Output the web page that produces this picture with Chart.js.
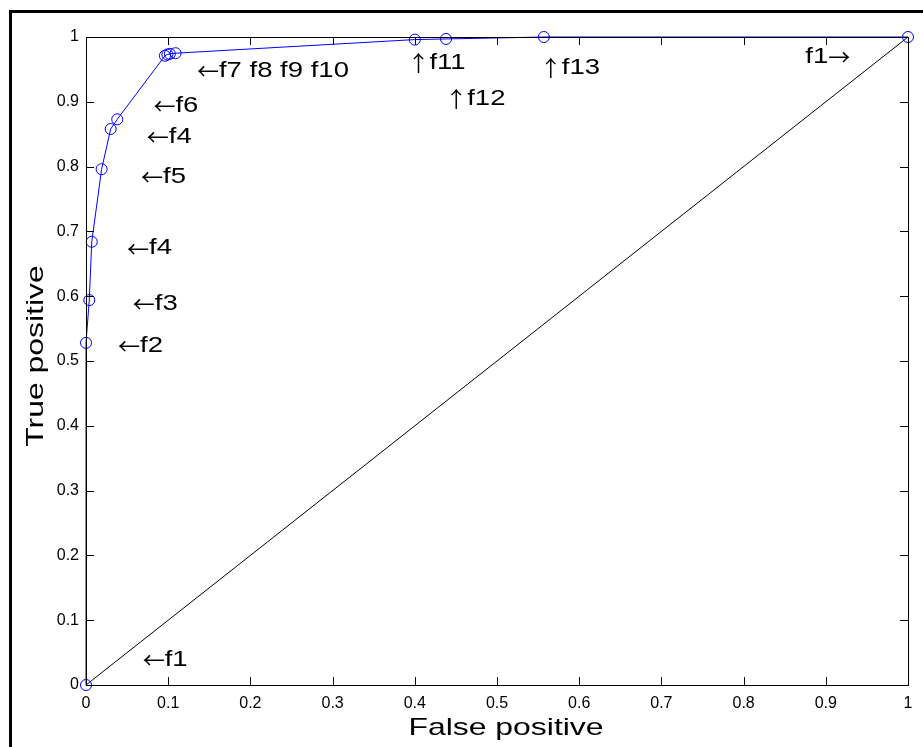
<!DOCTYPE html>
<html>
<head>
<meta charset="utf-8">
<script src="https://cdn.jsdelivr.net/npm/chart.js@4"></script>
<style>
  body { margin: 0; background: #fff; }
</style>
</head>
<body>
<canvas id="roc" width="923" height="747"></canvas>
<script>
// ROC curve points
const falsePos = [0, 0, 0.004, 0.007, 0.019, 0.030, 0.038, 0.096, 0.099, 0.102, 0.109, 0.400, 0.438, 0.557, 1]
const truePos = [0, 0.528, 0.594, 0.684, 0.796, 0.858, 0.873, 0.971, 0.973, 0.974, 0.975, 0.996, 0.997, 1.0, 1]

// chance line
const diagX = [0, 1]
const diagY = [0, 1]

// text notes on the plot
const noteText = ['←f7 f8 f9 f10', '←f6', '←f4', '←f5', '←f4', '←f3', '←f2', '←f1', '↑f11', '↑f12', '↑f13', 'f1→']
const noteX = [0.135, 0.082, 0.074, 0.067, 0.050, 0.057, 0.039, 0.069, 0.391, 0.437, 0.552, 0.875]
const noteY = [0.948, 0.894, 0.846, 0.784, 0.674, 0.588, 0.524, 0.039, 0.960, 0.905, 0.953, 0.969]

const xTitle = 'False positive'
const yTitle = 'True positive'

const fontName = '"Liberation Sans", Arial, Helvetica, sans-serif'
const arrowFont = '"Noto Sans CJK JP", "DejaVu Sans", sans-serif'
const stretch = 1.25  // text in the picture is wider than Arial

function toPoints(xs, ys) {
    return xs.map((x, i) => ({ x: x, y: ys[i] }))
}

// draw a note; arrows come from a font with long thin arrows
function drawNote(ctx, txt, x, y) {
    let cx = x
    txt.split(/([←↑→])/).forEach(part => {
        if (!part) return
        ctx.save()
        if (/[←↑→]/.test(part)) {
            ctx.font = '22px ' + arrowFont
            ctx.fillText(part, cx, y)
            cx += ctx.measureText(part).width
        } else {
            ctx.font = '22px ' + fontName
            ctx.translate(cx, y)
            ctx.scale(stretch, 1)
            ctx.fillText(part, 0, 0)
            cx += ctx.measureText(part).width * stretch
        }
        ctx.restore()
    })
}

const framePlugin = {
    id: 'frame',
    beforeDraw(chart) {
        const ctx = chart.ctx
        ctx.save()
        ctx.fillStyle = '#fff'
        ctx.fillRect(0, 0, chart.width, chart.height)
        ctx.strokeStyle = '#000'
        ctx.lineWidth = 3
        ctx.strokeRect(10.5, 11.5, 1000, 1000)
        ctx.restore()
    },
    afterDraw(chart) {
        const ctx = chart.ctx
        const a = chart.chartArea
        const xs = chart.scales.x
        const ys = chart.scales.y
        ctx.save()
        ctx.strokeStyle = '#000'
        ctx.lineWidth = 1
        ctx.beginPath()
        xs.ticks.forEach(t => {
            const px = Math.round(xs.getPixelForValue(t.value)) + 0.5
            ctx.moveTo(px, a.bottom); ctx.lineTo(px, a.bottom - 8)
            ctx.moveTo(px, a.top); ctx.lineTo(px, a.top + 8)
        })
        ys.ticks.forEach(t => {
            const py = Math.round(ys.getPixelForValue(t.value)) + 0.5
            ctx.moveTo(a.left, py); ctx.lineTo(a.left + 8, py)
            ctx.moveTo(a.right, py); ctx.lineTo(a.right - 8, py)
        })
        ctx.stroke()
        ctx.strokeRect(Math.round(a.left) + 0.5, Math.round(a.top) + 0.5,
            Math.round(a.right - a.left), Math.round(a.bottom - a.top))

        ctx.fillStyle = '#000'
        ctx.textAlign = 'left'
        ctx.textBaseline = 'middle'
        noteText.forEach((txt, i) => {
            drawNote(ctx, txt, xs.getPixelForValue(noteX[i]), ys.getPixelForValue(noteY[i]))
        })

        // axis titles
        ctx.font = '24px ' + fontName
        ctx.textAlign = 'center'
        ctx.textBaseline = 'alphabetic'
        ctx.save()
        ctx.translate((a.left + a.right) / 2 + 9, 735)
        ctx.scale(1.33, 1)
        ctx.fillText(xTitle, 0, 0)
        ctx.restore()
        ctx.save()
        ctx.translate(43, 356)
        ctx.rotate(-Math.PI / 2)
        ctx.scale(1.33, 1)
        ctx.fillText(yTitle, 0, 0)
        ctx.restore()
        ctx.restore()
    }
}

const ctx = document.getElementById('roc').getContext('2d')
new Chart(ctx, {
    type: 'scatter',
    data: {
        datasets: [{
            label: 'ROC',
            data: toPoints(falsePos, truePos),
            showLine: true,
            clip: false,
            borderColor: 'rgb(0, 0, 255)',
            borderWidth: 1,
            pointRadius: 5.5,
            pointBorderColor: 'rgb(0, 0, 255)',
            pointBackgroundColor: 'rgba(0, 0, 0, 0)',
            pointBorderWidth: 1,
            tension: 0
        }, {
            label: 'chance',
            data: toPoints(diagX, diagY),
            showLine: true,
            clip: false,
            borderColor: '#000',
            borderWidth: 1,
            pointRadius: 0
        }]
    },
    options: {
        responsive: false,
        animation: false,
        layout: { padding: { left: 0, top: 37, right: 15, bottom: 0 } },
        plugins: {
            legend: { display: false },
            tooltip: { enabled: false }
        },
        scales: {
            x: {
                type: 'linear',
                min: 0,
                max: 1,
                ticks: {
                    stepSize: 0.1,
                    color: '#000',
                    padding: 9,
                    maxRotation: 0,
                    font: { family: fontName, size: 16 },
                    callback: v => String(+v.toFixed(2))
                },
                grid: { display: false, drawTicks: false },
                border: { display: false },
                afterFit(scale) { scale.height = 62 }
            },
            y: {
                type: 'linear',
                min: 0,
                max: 1,
                ticks: {
                    stepSize: 0.1,
                    color: '#000',
                    padding: 7,
                    font: { family: fontName, size: 16 },
                    callback: v => String(+v.toFixed(2))
                },
                grid: { display: false, drawTicks: false },
                border: { display: false },
                afterFit(scale) { scale.width = 86 }
            }
        }
    },
    plugins: [framePlugin]
})
</script>
</body>
</html>
